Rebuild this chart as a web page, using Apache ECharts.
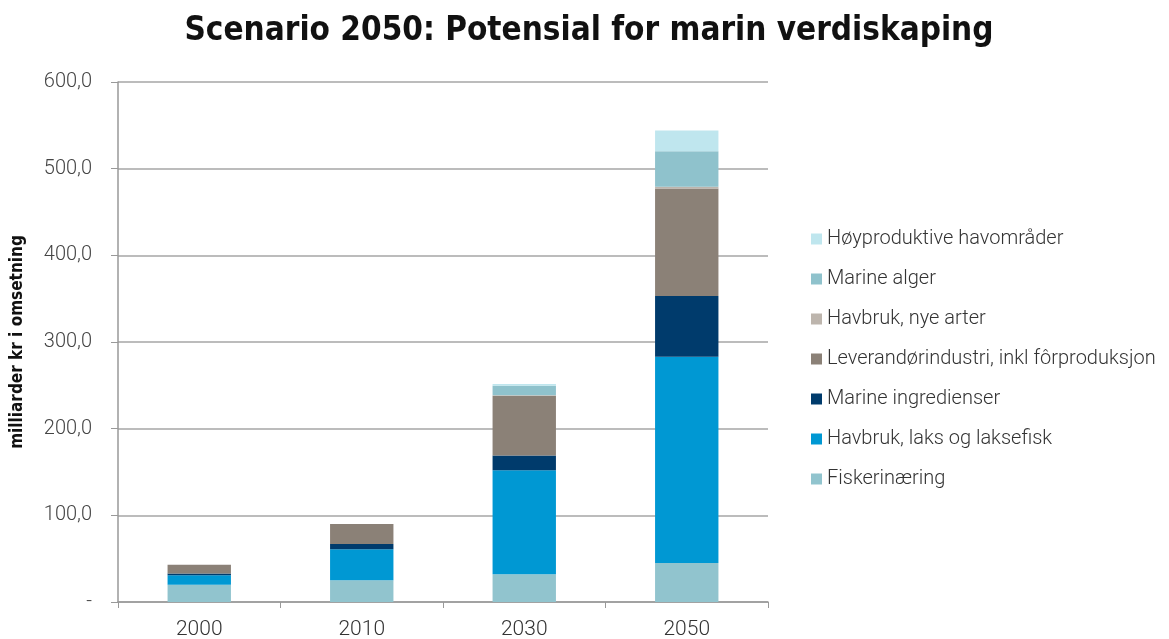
<!DOCTYPE html>
<html><head><meta charset="utf-8">
<script src="https://cdn.jsdelivr.net/npm/echarts@6/dist/echarts.min.js"></script>
<style>html,body{margin:0;padding:0;background:#fff}#c{width:1169px;height:639px}</style>
</head><body><div id="c"></div>
<script>
const categories = ['2000', '2010', '2030', '2050'];
const seriesNames = ['Fiskerinæring', 'Havbruk, laks og laksefisk', 'Marine ingredienser', 'Leverandørindustri, inkl fôrproduksjon', 'Havbruk, nye arter', 'Marine alger', 'Høyproduktive havområder'];
const fiskeri = [20, 25, 32, 45];
const laks = [11, 36, 120, 238];
const ingredienser = [2, 6, 17, 70];
const leverandor = [10, 23, 69, 124];
const nyeArter = [0, 0, 0.5, 2];
const alger = [0, 0, 11, 41];
const hoyproduktive = [0, 0, 2, 24];
const yTicks = [0, 100, 200, 300, 400, 500, 600];
const colors = ['#91c4ce', '#0098d3', '#003b6c', '#8b8177', '#bdb5ad', '#8fc2cc', '#bfe6ee'];

const values = [fiskeri, laks, ingredienser, leverandor, nyeArter, alger, hoyproduktive];
const font = 'Roboto, "DejaVu Sans Condensed", sans-serif';
const chart = echarts.init(document.getElementById('c'));
chart.setOption({
  animation: false,
  title: {
    text: 'Scenario 2050: Potensial for marin verdiskaping',
    left: 584, top: 10, textAlign: 'center',
    textStyle: {fontFamily: '"DejaVu Sans Condensed", sans-serif', fontWeight: 'bold', fontSize: 33, color: '#111'}
  },
  legend: {
    orient: 'vertical', left: 806, top: 223,
    data: seriesNames.slice().reverse(),
    itemWidth: 11, itemHeight: 11, itemGap: 18,
    icon: 'rect',
    textStyle: {fontFamily: font, fontSize: 20, color: '#333', lineHeight: 22, fontWeight: 300}
  },
  grid: {left: 118, right: 401, top: 82, bottom: 37, containLabel: false, outerBoundsMode: 'none'},
  xAxis: {
    type: 'category', data: categories,
    axisLine: {lineStyle: {color: '#999', width: 1.5}},
    axisTick: {show: true, length: 6, lineStyle: {color: '#999'}},
    axisLabel: {fontFamily: font, fontSize: 21, color: '#333', margin: 17, fontWeight: 300}
  },
  yAxis: {
    type: 'value', min: 0, max: 600, interval: 100,
    name: 'milliarder kr i omsetning', nameLocation: 'middle', nameGap: 92, nameRotate: 90,
    nameTextStyle: {fontFamily: '"DejaVu Sans Condensed", sans-serif', fontWeight: 'bold', fontSize: 17, color: '#111'},
    axisLine: {show: true, lineStyle: {color: '#999', width: 1.5}},
    axisTick: {show: true, length: 7, lineStyle: {color: '#999'}},
    splitLine: {lineStyle: {color: '#a6a6a6', width: 1.5}},
    axisLabel: {
      fontFamily: font, fontSize: 20, color: '#444', margin: 26, fontWeight: 300,
      formatter: v => yTicks.includes(v) ? (v === 0 ? '-' : v.toFixed(1).replace('.', ',')) : ''
    }
  },
  series: seriesNames.map((n, i) => ({
    name: n, type: 'bar', stack: 'total', data: values[i],
    barWidth: '39%', itemStyle: {color: colors[i]}
  }))
});
</script></body></html>
